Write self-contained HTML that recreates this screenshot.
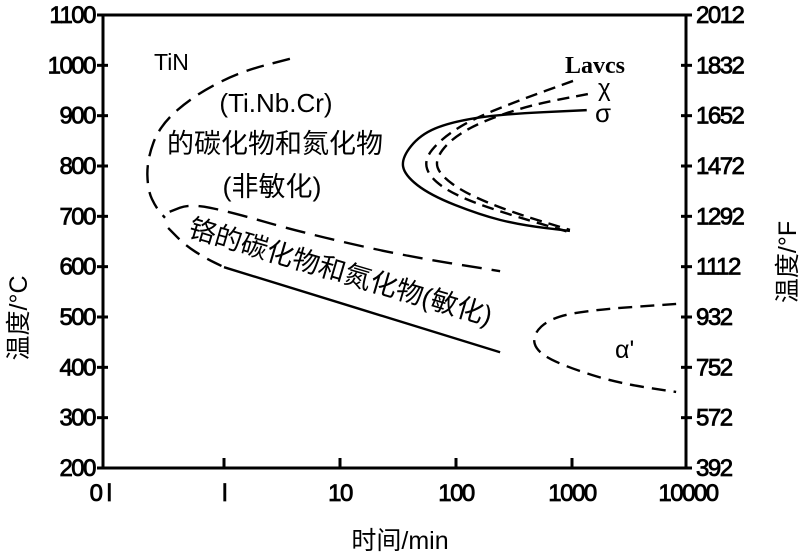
<!DOCTYPE html>
<html><head><meta charset="utf-8"><style>
html,body{margin:0;padding:0;background:#fff;}
svg{display:block;font-family:"Liberation Sans","Noto Sans CJK SC",sans-serif;}
</style></head><body>
<svg id="c" width="803" height="559" viewBox="0 0 803 559"></svg>
<script>
const yTicksC=[200,300,400,500,600,700,800,900,1000,1100];
const yTicksF=["392","572","752","932","1112","1292","1472","1652","1832","2012"];
const xTickVals=[0.1,1,10,100,1000,10000];
const xTickLabels=["0 l","l","10","100","1000","10000"];
const tinT=[3.7,1.37,0.56,0.28,0.217,0.22,0.26,0.31];
const tinC=[1013,987,941,881,812,752,717,697];
const sensUpT=[0.34,0.51,1.13,4.5,33,240];
const sensUpC=[709,725,709,669,623,591];
const sensLoDashT=[0.33,0.46,0.69,1.0];
const sensLoDashC=[677,643,617,599];
const sensLoSolidT=[1.0,240];
const sensLoSolidC=[599,430];
const sigmaT=[1340,240,89,49,34,36,60,161,355,960];
const sigmaC=[911,903,887,862,816,782,742,703,683,671];
const chiAT=[1020,355,132,73,53,60,98,240,1000];
const chiAC=[969,931,891,852,812,776,742,709,667];
const chiBT=[1370,435,161,89,66,73,120,295,960];
const chiBC=[943,921,887,852,812,782,746,709,673];
const alphaT=[7900,1450,650,455,500,890,2450,7900];
const alphaC=[526,514,498,464,430,401,369,351];

const L=103,R=686,T0=15,B=468;
const xs=t=>224+116*Math.log10(t);
const ys=c=>B-(c-200)*(B-T0)/900;
const svg=document.getElementById('c');
const NS='http://www.w3.org/2000/svg';
function mk(tag,attrs,parent){const e=document.createElementNS(NS,tag);for(const k in attrs)e.setAttribute(k,attrs[k]);(parent||svg).appendChild(e);return e;}
function txt(s,x,y,attrs){const e=mk('text',Object.assign({x:x,y:y},attrs||{}));e.textContent=s;return e;}

let f=mk('rect',{x:L,y:T0,width:R-L,height:B-T0,fill:'none',stroke:'#000','stroke-width':3});



yTicksC.forEach((v,i)=>{
  const y=ys(v);
  let t=mk('line',{x1:L-6,x2:L+5,y1:y,y2:y,stroke:'#000','stroke-width':3});
  
  
  let l=txt(String(v),95,y+8,{'text-anchor':'end','font-size':24,'letter-spacing':'-1.5',stroke:'#000','stroke-width':0.8});
  
  
  let t2=mk('line',{x1:R-5,x2:R+6,y1:y,y2:y,stroke:'#000','stroke-width':3});
  
  
  let l2=txt(yTicksF[i],696,y+8,{'font-size':24,'letter-spacing':'-1.5',stroke:'#000','stroke-width':0.8});
  
  
});
xTickVals.forEach((v,i)=>{
  const x=xs(v);
  if(i>0&&i<5){let t=mk('line',{x1:x,x2:x,y1:B,y2:B-10,stroke:'#000','stroke-width':3});
  
  }
  let l=txt(xTickLabels[i],i==0?100:x,501,{'text-anchor':'middle','font-size':24,'letter-spacing':'-1.5',stroke:'#000','stroke-width':0.8});
  
  
});
let xt=txt('时间/min',400,549,{'text-anchor':'middle','font-size':25});


let yt=txt('温度/°C',0,0,{'text-anchor':'middle','font-size':25,transform:'translate(27,318) rotate(-90)'});


let yt2=txt('温度/°F',0,0,{'text-anchor':'middle','font-size':25,transform:'translate(796,262) rotate(-90)'});



function curve(ts,cs,dash,name,w){
  let d='';
  ts.forEach((t,i)=>{const x=xs(t),y=ys(cs[i]);
    if(i==0)d='M'+x+','+y;
    else{const px=xs(ts[i-1]),py=ys(cs[i-1]);d+=' Q'+px+','+py+' '+((px+x)/2)+','+((py+y)/2);}
  });
  d+=' L'+xs(ts[ts.length-1])+','+ys(cs[cs.length-1]);
  const p=mk('path',{d:d,fill:'none',stroke:'#000','stroke-width':w||2.4,'stroke-dasharray':dash||'none'});
  
  
}
curve(tinT,tinC,'18,9','tin-carbide-curve');
curve(sensUpT,sensUpC,'20,10','cr-carbide-upper-curve');
curve(sensLoDashT,sensLoDashC,'16,9','cr-carbide-lower-dashed');
curve(sensLoSolidT,sensLoSolidC,null,'cr-carbide-lower-solid');
curve(sigmaT,sigmaC,null,'sigma-curve');
curve(chiAT,chiAC,'12,7','chi-curve');
curve(chiBT,chiBC,'12,7','laves-curve');
curve(alphaT,alphaC,'14,8','alpha-prime-curve');

const labels=[
 ['TiN',154,70,23,'tin-label',''],
 ['(Ti.Nb.Cr)',276,112,26,'ti-nb-cr-label','middle'],
 ['的碳化物和氮化物',275,153,27,'carbide-nitride-label','middle'],
 ['(非敏化)',272,196,27,'non-sensitized-label','middle'],
 ['χ',598,96,24,'chi-label',''],
 ['σ',595,122,26,'sigma-label',''],
 ["α'",615,358,25,'alpha-prime-label','']
];
labels.forEach(a=>{let e=txt(a[0],a[1],a[2],{'font-size':a[3],'text-anchor':a[5]||'start'});
 
 });
let lv=txt('Lavcs',565,73,{'font-size':24,'font-weight':'bold','font-family':'Liberation Serif,serif'});


let rt=txt('铬的碳化物和氮化物(敏化)',0,0,{'font-size':27,transform:'translate(187,236) rotate(16.5)'});


</script>
</body></html>
